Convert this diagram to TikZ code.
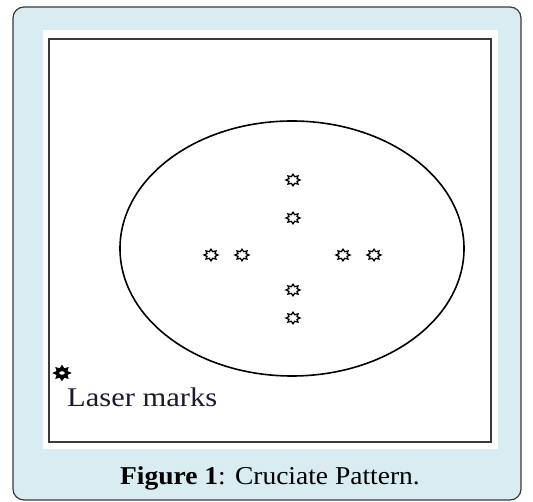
\documentclass[tikz,border=0pt]{standalone}
\usepackage{fontspec}
\setmainfont{Liberation Serif}
\newfontfamily\lasfont[FakeStretch=1.13]{Liberation Serif}
\newfontfamily\capfont[FakeStretch=1.07]{Liberation Serif}
\usetikzlibrary{shapes.geometric}
\definecolor{panelblue}{HTML}{D8ECF1}
\definecolor{framegray}{HTML}{3A3A3A}
\definecolor{textdark}{HTML}{1A1A30}
\tikzset{
  outerbox/.style={draw=framegray, line width=1.2pt, fill=panelblue, rounded corners=11pt},
  whitepanel/.style={fill=white, draw=none},
  innerrect/.style={draw=framegray, line width=1.3pt},
  dish/.style={draw=black, line width=1.6pt},
  smallmark/.style={star, star points=8, star point ratio=1.6, draw=black, line width=1.3pt, minimum size=11.5pt, inner sep=0pt, xscale=1.22, transform shape},
  bigmark/.style={star, star points=8, star point ratio=1.6, draw=black, fill=black, line width=0.8pt, minimum size=15pt, inner sep=0pt, xscale=1.15, transform shape},
  bigmarkhole/.style={ellipse, fill=white, minimum width=5.5pt, minimum height=3.5pt, inner sep=0pt},
  lbl/.style={font=\lasfont\fontsize{27}{30}\selectfont, text=textdark, inner sep=0pt, anchor=base west},
  captxt/.style={font=\capfont\fontsize{25.7}{28}\selectfont, text=black, inner sep=0pt, anchor=base}
}
\begin{document}
\begin{tikzpicture}[x=1pt,y=-1pt]
\useasboundingbox (0,0) rectangle (533,502);
\draw[outerbox] (13,7) rectangle (521,500);
\fill[whitepanel] (43,30) rectangle (498,449);
\draw[innerrect] (49,39) rectangle (491,442);
\node[dish, ellipse, minimum width=344pt, minimum height=255pt, inner sep=0pt] (dish) at (292,248.5) {};
% vertical arm
\node[smallmark] (t1) at (293,180) {};
\node[smallmark] (t2) at (293,218) {};
\node[smallmark] (b1) at (293,290) {};
\node[smallmark] (b2) at (293,318) {};
% horizontal arm
\node[smallmark] (l1) at (211,255) {};
\node[smallmark] (l2) at (242,255) {};
\node[smallmark] (r1) at (343,255) {};
\node[smallmark] (r2) at (374,255) {};
% legend
\node[bigmark] (lm) at (62,373) {};
\node[bigmarkhole] (lmh) at (62,373) {};
\node[lbl] (lasertext) at (67,407) {Laser marks};
\node[captxt] (caption) at (270,484) {\textbf{Figure 1}: Cruciate Pattern.};
\end{tikzpicture}
\end{document}
